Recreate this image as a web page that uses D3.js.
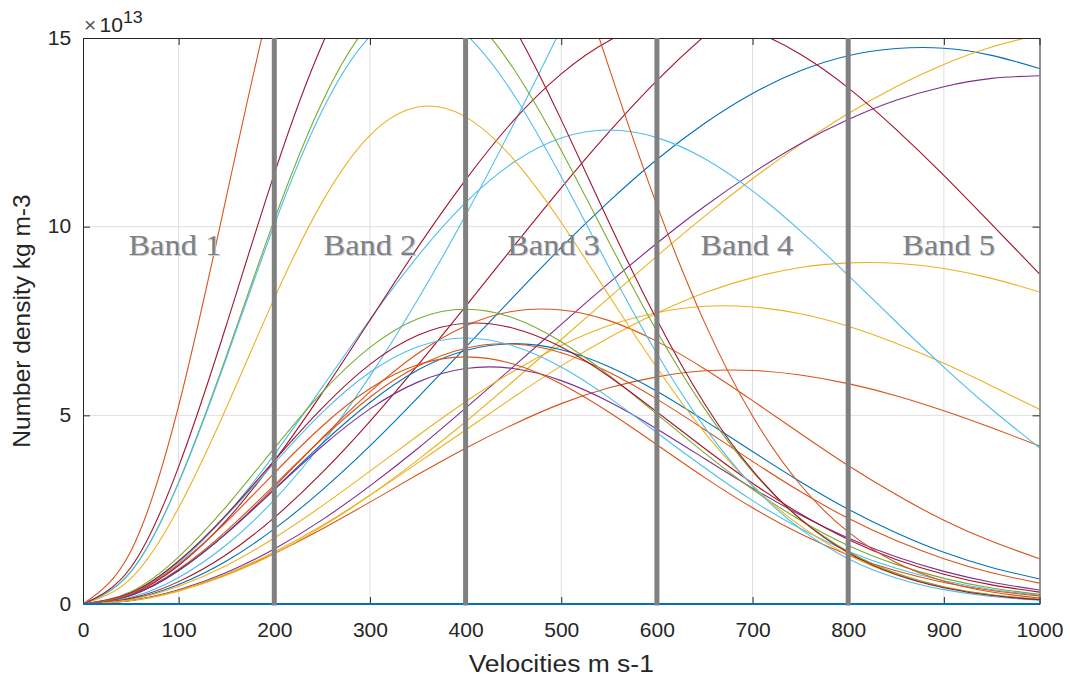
<!DOCTYPE html>
<html><head><meta charset="utf-8">
<script src="https://cdn.jsdelivr.net/npm/d3@7/dist/d3.min.js"></script>
<style>body{margin:0;background:#fff;} svg{display:block;}</style>
</head><body>
<svg id="chart" width="1070" height="677"></svg>
<script>
// ---------- data (values in units of 1e13) ----------
const velocities = [0,50,100,150,200,250,300,350,400,450,500,550,600,650,700,750,800,850,900,950,1000];
const xTicks = [0,100,200,300,400,500,600,700,800,900,1000];
const yTicks = [0,5,10,15];
const bandEdges = [200,400,600,800];
const bandLabels = ["Band 1","Band 2","Band 3","Band 4","Band 5"];
const bandLabelX = [96,300,492,694,905];
const bandLabelY = 9.25;

const orangeSteep   = [0,1.40,5.25,10.80,16.40,20.82,23.95,25.0,24.04,21.51,18.02,14.21,10.57,7.45,4.98,3.16,1.91,1.10,0.605,0.316,0.158];
const redSteep      = [0,0.968,3.64,7.40,11.40,14.82,17.05,17.8,17.12,15.31,12.83,10.11,7.53,5.30,3.54,2.25,1.36,0.783,0.431,0.225,0.112];
const greenSteep    = [0,0.857,3.23,6.58,10.18,13.30,15.40,16.19,15.71,14.19,12.02,9.59,7.23,5.17,3.51,2.26,1.39,0.818,0.458,0.245,0.125];
const cyanSteep     = [0,0.854,3.21,6.52,10.05,13.07,15.04,15.7,15.10,13.51,11.32,8.92,6.64,4.68,3.13,1.99,1.20,0.691,0.380,0.199,0.099];
const yellowSteep   = [0,0.675,2.55,5.21,8.10,10.65,12.42,13.17,12.91,11.79,10.11,8.17,6.26,4.54,3.14,2.07,1.30,0.777,0.446,0.244,0.128];
const greenMid      = [0,0.327,1.25,2.59,4.13,5.61,6.80,7.56,7.81,7.58,6.95,6.06,5.03,4.00,3.04,2.22,1.55,1.05,0.680,0.425,0.256];
const cyanMid       = [0,0.295,1.13,2.34,3.73,5.07,6.14,6.82,7.05,6.84,6.28,5.47,4.54,3.61,2.74,2.00,1.40,0.946,0.614,0.384,0.231];
const redMid        = [0,0.297,1.14,2.37,3.80,5.19,6.35,7.12,7.44,7.31,6.81,6.03,5.09,4.12,3.20,2.39,1.71,1.18,0.789,0.507,0.314];
const orangeMidLow  = [0,0.274,1.05,2.18,3.47,4.71,5.71,6.34,6.55,6.36,5.83,5.08,4.22,3.35,2.55,1.86,1.30,0.879,0.571,0.356,0.215];
const orangeMid     = [0,0.239,0.920,1.94,3.15,4.38,5.48,6.30,6.78,6.89,6.66,6.14,5.43,4.62,3.78,2.98,2.27,1.68,1.20,0.827,0.553];
const blueMid       = [0,0.229,0.882,1.87,3.04,4.25,5.34,6.20,6.72,6.90,6.74,6.29,5.64,4.86,4.04,3.24,2.51,1.89,1.37,0.969,0.664];
const purpleMid     = [0,0.233,0.894,1.88,3.03,4.18,5.17,5.88,6.24,6.24,5.92,5.36,4.64,3.85,3.07,2.36,1.75,1.25,0.864,0.576,0.372];
const orangeArch    = [0,0.228,0.884,1.88,3.10,4.40,5.62,6.64,7.37,7.76,7.79,7.51,6.96,6.23,5.39,4.52,3.67,2.90,2.22,1.66,1.20];
const cyanArch      = [0,0.280,1.09,2.36,3.96,5.74,7.54,9.22,10.64,11.70,12.35,12.56,12.36,11.80,10.95,9.89,8.71,7.48,6.28,5.16,4.14];
const redWide       = [0,0.260,1.02,2.22,3.79,5.59,7.52,9.45,11.24,12.81,14.05,14.93,15.40,15.48,15.19,14.57,13.68,12.58,11.36,10.06,8.75];
const redHigh       = [0,0.150,0.593,1.31,2.29,3.48,4.84,6.33,7.89,9.47,11.03,12.51,13.87,15.06,16.07,16.87,17.45,17.79,17.9,17.79,17.48];
const cyanHigh      = [0,0.177,0.704,1.57,2.76,4.26,6.04,8.07,10.30,12.71,15.26,17.9,20.6,23.3,25.9,28.5,31.0,33.3,35.5,37.4,39.2];
const blueWide      = [0,0.130,0.517,1.14,1.99,3.02,4.19,5.47,6.80,8.14,9.45,10.67,11.78,12.74,13.53,14.13,14.53,14.72,14.73,14.54,14.19];
const yellowWide    = [0,0.086,0.342,0.762,1.33,2.05,2.88,3.82,4.83,5.91,7.01,8.12,9.22,10.28,11.27,12.18,13.00,13.71,14.30,14.76,15.09];
const purpleWide    = [0,0.095,0.377,0.837,1.46,2.23,3.13,4.12,5.19,6.29,7.41,8.51,9.56,10.54,11.42,12.20,12.84,13.35,13.71,13.93,14.0];
const yellowFlat    = [0,0.091,0.360,0.796,1.38,2.08,2.88,3.74,4.61,5.48,6.31,7.06,7.71,8.25,8.65,8.92,9.04,9.03,8.89,8.63,8.27];
const yellowLow     = [0,0.119,0.468,1.02,1.75,2.60,3.52,4.46,5.36,6.17,6.85,7.38,7.72,7.89,7.87,7.69,7.36,6.91,6.38,5.78,5.16];
const orangeLow     = [0,0.091,0.357,0.781,1.34,1.99,2.70,3.43,4.13,4.76,5.31,5.73,6.02,6.18,6.19,6.07,5.84,5.52,5.12,4.67,4.19];
const blueZero      = [0,0,0,0,0,0,0,0,0,0,0,0,0,0,0,0,0,0,0,0,0];

// ---------- styling ----------
const C = {blue:"#0072BD", orange:"#D95319", yellow:"#EDB120", purple:"#7E2F8E", green:"#77AC30", cyan:"#4DBEEE", red:"#A2142F"};
const series = [
  [blueWide, C.blue], [orangeLow, C.orange], [yellowWide, C.yellow], [purpleWide, C.purple],
  [cyanHigh, C.cyan], [redHigh, C.red],
  [yellowFlat, C.yellow], [yellowLow, C.yellow], [cyanArch, C.cyan], [redWide, C.red],
  [orangeArch, C.orange], [blueMid, C.blue], [orangeMid, C.orange], [purpleMid, C.purple],
  [greenMid, C.green], [cyanMid, C.cyan], [redMid, C.red], [orangeMidLow, C.orange],
  [yellowSteep, C.yellow], [greenSteep, C.green], [cyanSteep, C.cyan], [redSteep, C.red], [orangeSteep, C.orange]
];

const svg = d3.select("#chart");
const L = 83, R = 1039.5, T = 38, B = 604;
const x = d3.scaleLinear().domain([0,1000]).range([L,R]);
const y = d3.scaleLinear().domain([0,15]).range([B,T]);
const SX = 1.08;
const AX = "#262626";
const FONT = "'Liberation Sans', Arial, Helvetica, sans-serif";

svg.append("rect").attr("width",1070).attr("height",677).attr("fill","#fff");

// grid
const grid = svg.append("g").attr("stroke","#dfdfdf").attr("stroke-width",1);
xTicks.filter(t=>t>0&&t<1000).forEach(t=>grid.append("line").attr("x1",x(t)).attr("x2",x(t)).attr("y1",T).attr("y2",B));
yTicks.filter(t=>t>0&&t<15).forEach(t=>grid.append("line").attr("x1",L).attr("x2",R).attr("y1",y(t)).attr("y2",y(t)));

// clip
svg.append("defs").append("clipPath").attr("id","plotclip")
  .append("rect").attr("x",L).attr("y",T).attr("width",R-L).attr("height",B-T+1.5);

const line = d3.line().x((d,i)=>x(velocities[i])).y(d=>y(d)).curve(d3.curveNatural);
const lines = svg.append("g").attr("clip-path","url(#plotclip)").attr("fill","none");
series.forEach(([vals,col])=>{
  lines.append("path").attr("d",line(vals)).attr("stroke",col).attr("stroke-width",1.1);
});

// axes
function styleAxis(g){
  g.select(".domain").attr("stroke",AX).attr("stroke-width",1);
  g.selectAll(".tick line").attr("stroke",AX).attr("stroke-width",1);
  g.selectAll("text").attr("fill",AX).attr("font-family",FONT).attr("font-size",19.5);
}
const xAxis = svg.append("g").attr("transform",`translate(0,${B})`)
  .call(d3.axisBottom(x).tickValues(xTicks).tickSizeInner(-7).tickSizeOuter(0).tickPadding(19).tickFormat(d3.format("d")));
styleAxis(xAxis);
xAxis.selectAll("text").attr("transform",`scale(${SX},1)`);

const xTop = svg.append("g").attr("transform",`translate(0,${T})`)
  .call(d3.axisTop(x).tickValues(xTicks).tickSizeInner(-7).tickSizeOuter(0).tickFormat(""));
styleAxis(xTop);

const yAxis = svg.append("g").attr("transform",`translate(${L},0)`)
  .call(d3.axisLeft(y).tickValues(yTicks).tickSizeInner(-7).tickSizeOuter(0).tickPadding(11).tickFormat(d3.format("d")));
styleAxis(yAxis);
yAxis.selectAll("text").attr("transform",`scale(${SX},1)`);

const yRight = svg.append("g").attr("transform",`translate(${R},0)`)
  .call(d3.axisRight(y).tickValues(yTicks).tickSizeInner(-7).tickSizeOuter(0).tickFormat(""));
styleAxis(yRight);

// zero-valued series on top of the axis line
svg.append("g").attr("clip-path","url(#plotclip)").append("path")
  .attr("d",line(blueZero)).attr("stroke",C.blue).attr("stroke-width",2).attr("fill","none");

// band dividers (drawn over curves)
bandEdges.forEach(v=>svg.append("line").attr("x1",x(v)).attr("x2",x(v)).attr("y1",T).attr("y2",B+1.5)
  .attr("stroke","#808080").attr("stroke-width",5));

// band labels
bandLabels.forEach((lab,i)=>{
  const gx = x(bandLabelX[i]), gy = y(bandLabelY);
  const g = svg.append("g").attr("transform",`translate(${gx},${gy}) scale(${SX},1)`);
  g.append("text").attr("x",1).attr("y",1).attr("text-anchor","middle")
    .attr("font-family","'Liberation Serif','Times New Roman',serif").attr("font-size",30)
    .attr("fill","#c9cedb").text(lab);
  g.append("text").attr("text-anchor","middle")
    .attr("font-family","'Liberation Serif','Times New Roman',serif").attr("font-size",30)
    .attr("fill","#808080").text(lab);
});

// exponent label
const ex = svg.append("text").attr("transform",`translate(84,32) scale(${SX},1)`)
  .attr("font-family",FONT).attr("fill",AX);
ex.append("tspan").attr("font-size",19.5).attr("fill","#555").text("\u00d7");
ex.append("tspan").attr("font-size",19.5).attr("dx",3).text("10");
ex.append("tspan").attr("font-size",16.5).attr("dy",-9).text("13");

// axis titles
svg.append("text").attr("transform",`translate(${(L+R)/2},672) scale(${SX},1)`)
  .attr("text-anchor","middle").attr("font-family",FONT).attr("font-size",24.5).attr("fill",AX)
  .text("Velocities m s-1");
svg.append("text").attr("transform",`translate(30,${(T+B)/2}) rotate(-90)`)
  .attr("text-anchor","middle").attr("font-family",FONT).attr("font-size",24.5).attr("fill",AX)
  .text("Number density kg m-3");
</script>
</body></html>
